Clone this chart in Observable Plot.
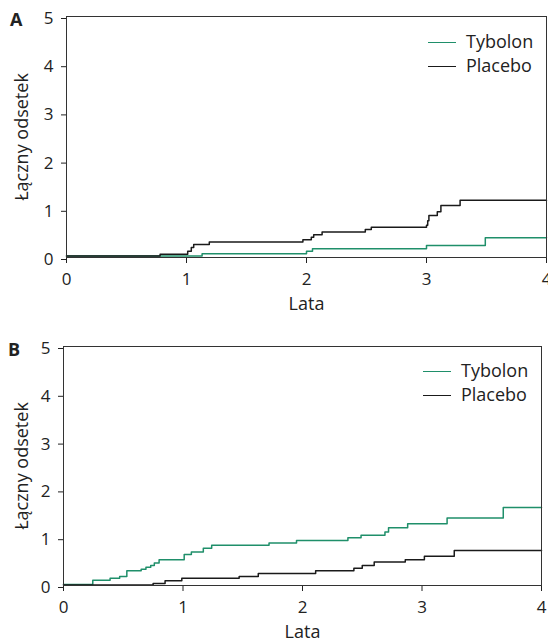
<!DOCTYPE html>
<html><head><meta charset="utf-8">
<script src="https://cdn.jsdelivr.net/npm/d3@7"></script>
<script src="https://cdn.jsdelivr.net/npm/@observablehq/plot@0.6"></script>
<style>
body{margin:0;background:#fff;font-family:"Open Sans",sans-serif;color:#222}
#wrap{position:relative;width:548px;height:641px;overflow:hidden}
.panel{position:absolute;left:0;width:548px}
.tag{position:absolute;font-weight:bold;font-size:18px;line-height:18px}
.leg{position:absolute;font-size:18px;line-height:24px;white-space:nowrap}
.leg .sw{display:inline-block;width:28px;height:0;border-top:1.6px solid;vertical-align:middle;margin-right:10px;position:relative;top:-1px}
</style>
</head><body>
<div id="wrap">
  <div class="panel" id="pA" style="top:0"></div>
  <div class="panel" id="pB" style="top:320px"></div>
  <div class="tag" style="left:10px;top:10px">A</div>
  <div class="tag" style="left:8px;top:340px">B</div>
</div>
<script>
// ---- data ----
const seriesNames = ["Tybolon", "Placebo"];
const seriesColors = ["#1f8f6a", "#1a1a1a"];
const yTicks = [0, 1, 2, 3, 4, 5];
const xTicks = [0, 1, 2, 3, 4];
const xLabel = "Lata";
const yLabel = "Łączny odsetek";

// Panel A
const aTybolonT = [0, 1.13, 2.0, 2.05, 3.0, 3.49, 4];
const aTybolonV = [0.03, 0.08, 0.13, 0.18, 0.25, 0.41, 0.41];
const aPlaceboT = [0, 0.78, 1.01, 1.04, 1.06, 1.19, 1.97, 2.04, 2.06, 2.13, 2.49, 2.54, 3.0, 3.01, 3.02, 3.09, 3.12, 3.28, 4];
const aPlaceboV = [0.03, 0.07, 0.13, 0.21, 0.27, 0.32, 0.37, 0.42, 0.47, 0.53, 0.58, 0.63, 0.67, 0.76, 0.87, 0.95, 1.08, 1.19, 1.19];

// Panel B
const bTybolonT = [0, 0.245, 0.39, 0.47, 0.53, 0.65, 0.69, 0.73, 0.76, 0.80, 1.01, 1.07, 1.17, 1.24, 1.72, 1.95, 2.38, 2.49, 2.69, 2.72, 2.88, 3.21, 3.68, 4];
const bTybolonV = [0.02, 0.11, 0.15, 0.19, 0.31, 0.34, 0.38, 0.42, 0.47, 0.54, 0.65, 0.70, 0.78, 0.84, 0.89, 0.94, 1.0, 1.05, 1.12, 1.21, 1.29, 1.41, 1.63, 1.63];
const bPlaceboT = [0, 0.75, 0.85, 0.99, 1.47, 1.63, 2.11, 2.43, 2.50, 2.60, 2.86, 3.02, 3.27, 4];
const bPlaceboV = [0.01, 0.04, 0.10, 0.15, 0.19, 0.25, 0.31, 0.36, 0.42, 0.49, 0.54, 0.61, 0.73, 0.73];

const toRows = (t, v, s) => t.map((x, i) => ({t: x, v: v[i], s}));

function panel(tyT, tyV, plT, plV, m) {
  const rows = [...toRows(tyT, tyV, seriesNames[0]), ...toRows(plT, plV, seriesNames[1])];
  return Plot.plot({
    width: 548, height: m.height,
    marginTop: m.top, marginBottom: m.bottom, marginLeft: m.left, marginRight: m.right,
    style: {fontFamily: '"Open Sans", sans-serif', fontSize: "17px", color: "#222", background: "#fff"},
    x: {domain: [0, 4]},
    y: {domain: [0, 5]},
    color: {domain: seriesNames, range: seriesColors},
    marks: [
      Plot.axisY({ticks: yTicks, tickSize: 5, tickPadding: 8, tickFormat: d => String(d), label: null, dy: 2}),
      Plot.axisY({ticks: yTicks, tickSize: 0, tickFormat: () => "", label: yLabel, labelAnchor: "center", labelArrow: "none", labelOffset: m.ylo, fontSize: 18}),
      Plot.axisX({ticks: xTicks, tickSize: 6, tickPadding: 9, tickFormat: d => String(d), label: null}),
      Plot.axisX({ticks: xTicks, tickSize: 0, tickFormat: () => "", label: xLabel, labelAnchor: "center", labelArrow: "none", labelOffset: m.xlo, fontSize: 18}),
      Plot.line(rows, {x: "t", y: "v", z: "s", stroke: "s", curve: "step-after", strokeWidth: 1.5}),
      Plot.frame({stroke: "#333", strokeWidth: 1})
    ]
  });
}

document.getElementById("pA").appendChild(panel(aTybolonT, aTybolonV, aPlaceboT, aPlaceboV,
  {height: 320, top: 16, bottom: 63, left: 66, right: 2, ylo: 51, xlo: 52}));
document.getElementById("pB").appendChild(panel(bTybolonT, bTybolonV, bPlaceboT, bPlaceboV,
  {height: 321, top: 26, bottom: 56, left: 63, right: 7, ylo: 48, xlo: 52}));

// legends
function legend(left, top) {
  const div = document.createElement("div");
  div.className = "leg";
  div.style.left = left + "px";
  div.style.top = top + "px";
  div.innerHTML = seriesNames.map((n, i) =>
    `<div><span class="sw" style="border-color:${seriesColors[i]}"></span>${n}</div>`).join("");
  document.getElementById("wrap").appendChild(div);
}
legend(428, 29);
legend(423, 358);
</script>
</body></html>
